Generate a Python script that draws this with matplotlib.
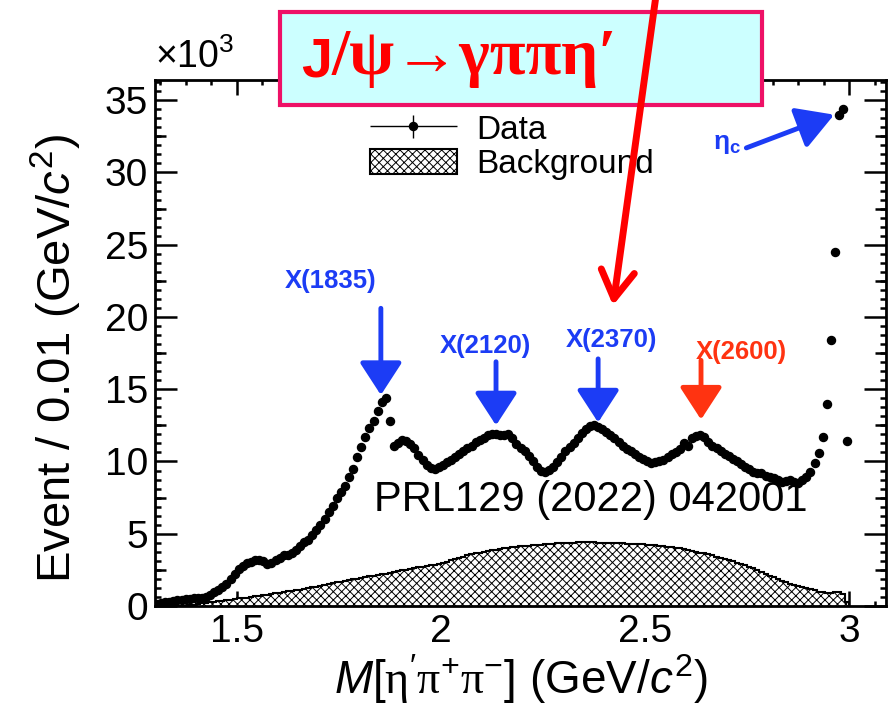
import matplotlib.pyplot as plt
import numpy as np
from matplotlib import rcParams
from matplotlib.container import ErrorbarContainer
from matplotlib.legend_handler import HandlerErrorbar
from matplotlib.patches import Rectangle
from matplotlib.ticker import MultipleLocator

rcParams['font.family'] = ['Liberation Sans', 'DejaVu Sans']
rcParams['mathtext.fontset'] = 'custom'
rcParams['mathtext.rm'] = 'Liberation Sans'
rcParams['mathtext.it'] = 'Liberation Sans:italic'
rcParams['mathtext.bf'] = 'Liberation Sans:bold'
# greek letters in a serif face, close to ROOT's Symbol font
rcParams['mathtext.sf'] = 'Liberation Serif'
rcParams['hatch.linewidth'] = 0.7
rcParams['axes.linewidth'] = 2.0

blue = '#1c3cf5'
orange_red = '#ff3311'

# M(eta' pi+ pi-) spectrum, events per 0.01 GeV/c^2, in units of 10^3
bin_lo = 1.30
bin_width = 0.01
data_k = [
    0.15, 0.2, 0.25, 0.3, 0.35, 0.4, 0.42, 0.45, 0.5, 0.52,
    0.55, 0.58, 0.62, 0.75, 0.95, 1.1, 1.3, 1.55, 1.85, 2.2,
    2.55, 2.8, 2.95, 3.05, 3.15, 3.2, 3.1, 2.9, 3.0, 3.2,
    3.35, 3.5, 3.5, 3.65, 3.9, 4.15, 4.4, 4.6, 4.9, 5.25,
    5.6, 6.0, 6.5, 6.95, 7.45, 7.9, 8.3, 8.9, 9.45, 10.3,
    11.0, 11.7, 12.3, 12.8, 13.5, 14.1, 14.4, 12.8, 11.1, 11.3,
    11.5, 11.4, 11.2, 10.9, 10.45, 10.1, 9.75, 9.55, 9.5, 9.6,
    9.75, 9.95, 10.1, 10.3, 10.5, 10.7, 10.9, 11.1, 11.35, 11.5,
    11.65, 11.8, 11.9, 11.9, 11.8, 11.85, 11.9, 11.6, 11.2, 10.9,
    10.7, 10.4, 10.0, 9.6, 9.35, 9.3, 9.4, 9.6, 9.95, 10.3,
    10.7, 11.0, 11.3, 11.65, 11.95, 12.25, 12.45, 12.5, 12.4, 12.25,
    12.05, 11.85, 11.65, 11.35, 11.05, 10.85, 10.7, 10.5, 10.3, 10.15,
    10.0, 9.9, 9.95, 10.0, 10.1, 10.3, 10.5, 10.65, 10.85, 11.3,
    11.1, 11.6, 11.75, 11.8, 11.7, 11.35, 11.05, 10.9, 10.7, 10.55,
    10.4, 10.2, 10.05, 9.85, 9.6, 9.45, 9.3, 9.2, 9.2, 9.0,
    8.9, 8.85, 8.7, 8.6, 8.65, 8.7, 8.6, 8.5, 8.7, 8.9,
    9.3, 9.9, 10.6, 11.7, 14.0, 18.4, 24.5, 34.0, 34.4, 11.4,
]
bkg_k = [
    0.0, 0.0, 0.0, 0.0, 0.0, 0.0, 0.0, 0.0, 0.05, 0.1,
    0.15, 0.18, 0.22, 0.25, 0.28, 0.32, 0.36, 0.4, 0.44, 0.48,
    0.52, 0.55, 0.58, 0.62, 0.66, 0.7, 0.74, 0.78, 0.82, 0.88,
    0.92, 0.98, 1.02, 1.06, 1.1, 1.13, 1.18, 1.22, 1.28, 1.32,
    1.38, 1.45, 1.52, 1.6, 1.65, 1.68, 1.72, 1.78, 1.85, 1.9,
    1.95, 2.0, 2.05, 2.1, 2.12, 2.18, 2.22, 2.28, 2.35, 2.42,
    2.48, 2.52, 2.58, 2.62, 2.68, 2.72, 2.78, 2.82, 2.86, 2.92,
    2.98, 3.05, 3.15, 3.25, 3.35, 3.42, 3.5, 3.58, 3.65, 3.7,
    3.75, 3.8, 3.85, 3.9, 3.95, 3.98, 4.02, 4.05, 4.08, 4.12,
    4.15, 4.18, 4.2, 4.22, 4.25, 4.28, 4.3, 4.32, 4.33, 4.35,
    4.36, 4.38, 4.38, 4.4, 4.4, 4.42, 4.4, 4.4, 4.38, 4.38,
    4.36, 4.36, 4.35, 4.34, 4.33, 4.32, 4.3, 4.3, 4.28, 4.27,
    4.25, 4.22, 4.2, 4.17, 4.14, 4.1, 4.06, 4.02, 3.98, 3.93,
    3.88, 3.82, 3.76, 3.7, 3.65, 3.58, 3.5, 3.42, 3.34, 3.25,
    3.18, 3.1, 3.0, 2.92, 2.82, 2.72, 2.6, 2.48, 2.35, 2.22,
    2.1, 1.98, 1.85, 1.75, 1.65, 1.55, 1.45, 1.35, 1.3, 1.22,
    1.15, 1.08, 1.0, 0.95, 0.9, 0.88, 0.95, 1.0, 0.85, 0.3,
]

# resonance markers: name, mass, arrow tail / tip heights, label position
res_names = ['X(1835)', 'X(2120)', 'X(2370)', 'X(2600)']
res_mass = [1.853, 2.135, 2.385, 2.637]
res_tail = [20.6, 16.9, 17.1, 17.0]
res_tip = [14.6, 12.5, 12.7, 12.9]
res_label_xy = [(1.73, 22.5), (2.11, 18.0), (2.417, 18.4), (2.735, 17.6)]
res_colors = [blue, blue, blue, orange_red]

data = np.array(data_k)
bkg = np.array(bkg_k)
edges = bin_lo + bin_width * np.arange(len(data) + 1)
centers = edges[:-1] + bin_width / 2
err = np.sqrt(data * 1e3) / 1e3

fig = plt.figure(figsize=(8.91, 7.11), dpi=100)
ax = fig.add_axes([0.174, 0.1477, 0.8204, 0.7398])

h_bkg = ax.stairs(bkg, edges, fill=True, facecolor='white', edgecolor='black',
                  hatch='xxxx', linewidth=1.5, zorder=2)
h_data = ax.errorbar(centers, data, xerr=bin_width / 2, yerr=err, fmt='o',
                     ms=5.8, color='black', elinewidth=1, capsize=0, zorder=3)

ax.set_xlim(1.30, 3.09)
ax.set_ylim(0, 36.4)

# ROOT-like ticks: major, a longer middle tick, and 8 minor divisions
ax.xaxis.set_major_locator(MultipleLocator(0.5))
ax.xaxis.set_minor_locator(MultipleLocator(0.0625))
ax.yaxis.set_major_locator(MultipleLocator(5))
ax.yaxis.set_minor_locator(MultipleLocator(0.625))
ax.xaxis.set_major_formatter(lambda v, p: f'{v:g}')
ax.tick_params(which='both', direction='in', top=True, right=True, width=1.8)
ax.tick_params(axis='x', which='major', length=11, pad=6, labelsize=28)
ax.tick_params(axis='x', which='minor', length=3.6)
ax.tick_params(axis='y', which='major', length=16, pad=5, labelsize=28)
ax.tick_params(axis='y', which='minor', length=4.3)

for side in ['bottom', 'top']:
    sec = ax.secondary_xaxis(side)
    sec.set_xticks([1.75, 2.25, 2.75])
    sec.tick_params(direction='in', length=5.4, width=1.8,
                    labelbottom=False, labeltop=False)
    sec.spines[side].set_visible(False)
for side in ['left', 'right']:
    sec = ax.secondary_yaxis(side)
    sec.set_yticks(np.arange(2.5, 36, 5))
    sec.tick_params(direction='in', length=8, width=1.8,
                    labelleft=False, labelright=False)
    sec.spines[side].set_visible(False)

ax.set_xlabel(r"$\mathit{M}[\mathsf{η}'\mathsf{π}^{+}\mathsf{π}^{-}]$ (GeV/$\mathit{c}^{2}$)",
              fontsize=33, labelpad=1)
ax.set_ylabel(r'Event / 0.01 (GeV/$\mathit{c}^{2}$)', fontsize=34, labelpad=15)
ax.yaxis.label.set_y(0.47)
ax.text(0.0, 1.008, r'$\times$10$^{3}$', transform=ax.transAxes,
        ha='left', va='bottom', fontsize=27)

ax.legend([h_data, h_bkg], ['Data', 'Background'], loc='upper left',
          bbox_to_anchor=(0.294, 0.935), frameon=False, fontsize=24,
          handlelength=2.6, handleheight=0.8, handletextpad=0.6,
          labelspacing=0.1, borderpad=0, borderaxespad=0,
          handler_map={ErrorbarContainer: HandlerErrorbar(xerr_size=1.3, yerr_size=0.35)})

for name, m, y0, y1, (lx, ly), c in zip(res_names, res_mass, res_tail, res_tip,
                                         res_label_xy, res_colors):
    ax.annotate('', xy=(m, y1), xytext=(m, y0),
                arrowprops=dict(arrowstyle='-|>,head_length=0.4,head_width=0.26',
                                lw=3.5, color=c, mutation_scale=50,
                                shrinkA=0, shrinkB=0), zorder=4)
    ax.text(lx, ly, name, color=c, fontsize=18.5, fontweight='bold',
            ha='center', va='center', zorder=5)

ax.annotate('', xy=(2.963, 34.0), xytext=(2.748, 31.7),
            arrowprops=dict(arrowstyle='-|>,head_length=0.45,head_width=0.26',
                            lw=3.5, color=blue, mutation_scale=50,
                            shrinkA=0, shrinkB=0), zorder=4)
ax.text(2.70, 32.0, r'$\mathbf{η}_{\mathbf{c}}$', color=blue, fontsize=19,
        ha='center', va='center')

ax.text(2.368, 7.3, 'PRL129 (2022) 042001', fontsize=30, ha='center', va='center')

# decay-channel banner across the top of the frame
ax.add_patch(Rectangle((0.314, 0.852), 0.541, 0.131, transform=fig.transFigure,
                       facecolor='#ccffff', edgecolor='#ee1166', lw=3,
                       clip_on=False, zorder=6))
j = ax.text(0.338, 0.876, 'J', transform=fig.transFigure, fontsize=40,
            fontweight='bold', color='red', ha='left', va='bottom', zorder=7)
ax.annotate('/ψ→γππη′', xy=(1, 0), xycoords=j, fontsize=47, color='red',
            fontweight='bold', family=['Liberation Serif', 'DejaVu Serif'],
            ha='left', va='bottom', annotation_clip=False, zorder=7)

ax.annotate('', xy=(2.4216, 20.8), xytext=(2.527, 42.3),
            arrowprops=dict(arrowstyle='->,head_length=0.5,head_width=0.3',
                            lw=5, color='red', mutation_scale=40,
                            shrinkA=0, shrinkB=0),
            annotation_clip=False, zorder=8)

fig.savefig('out.png', dpi=100)
